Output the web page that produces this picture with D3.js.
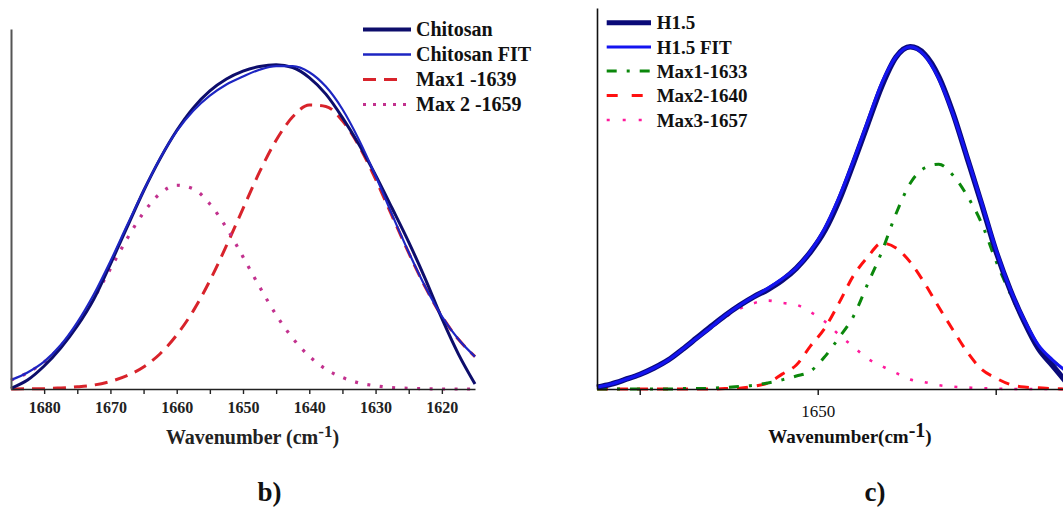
<!DOCTYPE html>
<html>
<head>
<meta charset="utf-8">
<script src="https://cdn.jsdelivr.net/npm/d3@7"></script>
<style>
  html, body { margin: 0; padding: 0; background: #fff; overflow: hidden; }
  svg { display: block; }
  svg text { font-family: "Liberation Serif", "Tinos", "Times New Roman", "Times", "DejaVu Serif", "Noto Serif", serif !important; }
</style>
</head>
<body>
<svg id="fig" width="1063" height="508"></svg>
<script>
// ---------- Panel b: chitosan amide I band and its two-component fit ----------
const wavenumbersB = [1685, 1682.5, 1680, 1677.5, 1675, 1672.5, 1670, 1667.5, 1665, 1662.5,
  1660, 1657.5, 1655, 1652.5, 1650, 1647.5, 1645, 1642.5, 1640, 1637.5,
  1635, 1632.5, 1630, 1627.5, 1625, 1622.5, 1620, 1617.5, 1615];
const chitosan = [0.002, 0.025, 0.064, 0.114, 0.175, 0.250, 0.347, 0.449, 0.550, 0.640,
  0.718, 0.781, 0.828, 0.861, 0.883, 0.896, 0.901, 0.893, 0.865, 0.819,
  0.754, 0.679, 0.594, 0.502, 0.408, 0.306, 0.196, 0.097, 0.014];
const chitosanFit = [0.025, 0.046, 0.076, 0.122, 0.185, 0.263, 0.355, 0.454, 0.551, 0.641,
  0.716, 0.773, 0.815, 0.846, 0.868, 0.887, 0.897, 0.897, 0.880, 0.840,
  0.777, 0.692, 0.592, 0.484, 0.380, 0.284, 0.202, 0.138, 0.090];
const max1B = [0.000, 0.001, 0.001, 0.003, 0.006, 0.011, 0.021, 0.037, 0.061, 0.098,
  0.150, 0.217, 0.301, 0.398, 0.501, 0.603, 0.691, 0.756, 0.789, 0.785,
  0.745, 0.675, 0.583, 0.480, 0.378, 0.283, 0.202, 0.138, 0.090];
const max2B = [0.025, 0.045, 0.075, 0.119, 0.179, 0.252, 0.334, 0.417, 0.490, 0.543,
  0.566, 0.556, 0.514, 0.448, 0.367, 0.284, 0.206, 0.141, 0.091, 0.055,
  0.032, 0.017, 0.009, 0.004, 0.002, 0.001, 0.000, 0.000, 0.000];
const labeledTicksB = [1680, 1670, 1660, 1650, 1640, 1630, 1620];
const minorTicksB = [1675, 1665, 1655, 1645, 1635, 1625];
const legendB = ["Chitosan", "Chitosan FIT", "Max1 -1639", "Max 2 -1659"];

// ---------- Panel c: H1.5 amide I band and its three-component fit ----------
const wavenumbersC = [1681, 1679, 1677, 1675, 1673, 1671, 1669, 1667, 1665, 1663,
  1661, 1659, 1657, 1655, 1653, 1651, 1649, 1647, 1645, 1643,
  1641, 1639, 1637, 1635, 1633, 1631, 1629, 1627, 1625, 1623,
  1621, 1619, 1617, 1615];
const h15 = [0.005, 0.013, 0.025, 0.038, 0.055, 0.076, 0.104, 0.134, 0.164, 0.193,
  0.219, 0.242, 0.261, 0.285, 0.317, 0.360, 0.416, 0.495, 0.592, 0.694,
  0.795, 0.871, 0.898, 0.879, 0.820, 0.724, 0.606, 0.487, 0.364, 0.262,
  0.177, 0.106, 0.061, 0.016];
const h15Fit = [0.005, 0.013, 0.025, 0.038, 0.055, 0.076, 0.104, 0.133, 0.162, 0.193,
  0.219, 0.242, 0.264, 0.289, 0.318, 0.362, 0.422, 0.503, 0.598, 0.701,
  0.803, 0.872, 0.898, 0.876, 0.815, 0.722, 0.608, 0.490, 0.368, 0.264,
  0.181, 0.115, 0.076, 0.045];
const max1C = [0.000, 0.000, 0.000, 0.000, 0.000, 0.000, 0.001, 0.001, 0.002, 0.004,
  0.007, 0.010, 0.016, 0.024, 0.034, 0.047, 0.085, 0.135, 0.190, 0.275,
  0.360, 0.460, 0.540, 0.580, 0.590, 0.561, 0.507, 0.436, 0.338, 0.252,
  0.176, 0.112, 0.075, 0.045];
const max2C = [0.000, 0.000, 0.000, 0.000, 0.000, 0.000, 0.000, 0.000, 0.000, 0.001,
  0.002, 0.007, 0.016, 0.039, 0.063, 0.113, 0.160, 0.226, 0.297, 0.346,
  0.383, 0.370, 0.333, 0.278, 0.215, 0.155, 0.097, 0.052, 0.029, 0.012,
  0.005, 0.003, 0.001, 0.000];
const max3C = [0.005, 0.013, 0.025, 0.038, 0.055, 0.076, 0.103, 0.132, 0.160, 0.188,
  0.210, 0.225, 0.232, 0.226, 0.221, 0.202, 0.177, 0.142, 0.111, 0.080,
  0.060, 0.042, 0.025, 0.018, 0.010, 0.006, 0.004, 0.002, 0.001, 0.000,
  0.000, 0.000, 0.000, 0.000];
const labeledTicksC = [1650];
const minorTicksC = [1675, 1625];
const legendC = ["H1.5", "H1.5 FIT", "Max1-1633", "Max2-1640", "Max3-1657"];

const SERIF = "Liberation Serif, Tinos, Times New Roman, Times, DejaVu Serif, serif";
const svg = d3.select("#fig");

function drawCurve(g, x, y, wn, vals, st, curve) {
  const line = d3.line()
    .x((d, i) => x(wn[i]))
    .y(d => y(d))
    .curve(curve);
  g.append("path")
    .datum(vals)
    .attr("d", line)
    .attr("fill", "none")
    .attr("stroke", st.color)
    .attr("stroke-width", st.width)
    .attr("stroke-dasharray", st.dash || null)
    .attr("stroke-linejoin", "round");
}

function drawLegend(g, entries, x1, x2, tx, baselines, size) {
  entries.forEach((e, i) => {
    const yb = baselines[i];
    g.append("line")
      .attr("x1", x1).attr("x2", e.legendEnd || x2)
      .attr("y1", yb - 6.5).attr("y2", yb - 6.5)
      .attr("stroke", e.color)
      .attr("stroke-width", e.legendWidth || e.width)
      .attr("stroke-dasharray", e.legendDash || e.dash || null);
    g.append("text")
      .attr("x", tx).attr("y", yb)
      .attr("font-family", SERIF)
      .attr("font-size", size).attr("font-weight", "bold")
      .attr("fill", "#111")
      .text(e.label);
  });
}

// ===== Panel b =====
const xB = d3.scaleLinear().domain([1685, 1615]).range([11, 475]);
const yB = d3.scaleLinear().domain([0, 1]).range([389, 29]);
const gB = svg.append("g");

const stylesB = [
  { label: legendB[2], vals: max1B, color: "#d8232b", width: 3, dash: "13,8", legendEnd: 399 },
  { label: legendB[3], vals: max2B, color: "#c2318e", width: 3.2, dash: "3,9.5", legendDash: "3,7", legendEnd: 408 },
  { label: legendB[0], vals: chitosan, color: "#0d0d6b", width: 3, legendWidth: 4 },
  { label: legendB[1], vals: chitosanFit, color: "#1d25c2", width: 2.2, legendWidth: 2.5 }
];
stylesB.forEach(s => drawCurve(gB, xB, yB, wavenumbersB, s.vals, s, d3.curveMonotoneX));

// axes of panel b
const axB = gB.append("g").attr("transform", "translate(0,389)")
  .call(d3.axisBottom(xB)
    .tickValues(labeledTicksB.concat(minorTicksB))
    .tickSize(5).tickSizeOuter(0).tickPadding(8)
    .tickFormat(d => labeledTicksB.includes(d) ? d3.format("d")(d) : ""));
axB.attr("font-family", SERIF);
axB.select(".domain").attr("stroke", "#222").attr("stroke-width", 1.6);
axB.selectAll(".tick line").attr("stroke", "#222").attr("stroke-width", 1.4);
axB.selectAll(".tick text").attr("font-size", 16).attr("font-weight", "bold")
  .attr("fill", "#222").attr("font-family", SERIF);

const ayB = gB.append("g").attr("transform", "translate(11,0)")
  .call(d3.axisLeft(yB).tickValues([]).tickSizeOuter(0));
ayB.select(".domain").attr("stroke", "#555").attr("stroke-width", 2);

const titleB = gB.append("text").attr("x", 252.5).attr("y", 444)
  .attr("text-anchor", "middle").attr("font-weight", "bold").attr("fill", "#222")
  .attr("font-family", SERIF).attr("font-size", 20);
titleB.append("tspan").text("Wavenumber (cm");
titleB.append("tspan").attr("font-size", 17).attr("dy", -7.5).text("-1");
titleB.append("tspan").attr("dy", 7.5).text(")");

drawLegend(gB, [stylesB[2], stylesB[3], stylesB[0], stylesB[1]], 363, 411, 416, [36, 61, 86, 111], 20);

svg.append("text").attr("x", 269.5).attr("y", 501).attr("text-anchor", "middle")
  .attr("font-family", SERIF)
  .attr("font-weight", "bold").attr("font-size", 27).attr("fill", "#111").text("b)");

// ===== Panel c =====
const xC = d3.scaleLinear().domain([1681, 1615]).range([597, 1066.9]);
const yC = d3.scaleLinear().domain([0, 1]).range([389, 8]);
const gC = svg.append("g");

const stylesC = [
  { label: legendC[4], vals: max3C, color: "#ff1a9c", width: 2.6, dash: "3,12", legendDash: "3,13", legendEnd: 643 },
  { label: legendC[3], vals: max2C, color: "#ff1010", width: 3, dash: "11,9", legendDash: "11,14", legendEnd: 644 },
  { label: legendC[2], vals: max1C, color: "#0b870b", width: 3, dash: "10,10,3,10" },
  { label: legendC[0], vals: h15, color: "#0a0a78", width: 5.5, legendWidth: 5 },
  { label: legendC[1], vals: h15Fit, color: "#1414f0", width: 3.2 }
];
stylesC.forEach(s => drawCurve(gC, xC, yC, wavenumbersC, s.vals, s, d3.curveMonotoneX));

const axC = gC.append("g").attr("transform", "translate(0,389)")
  .call(d3.axisBottom(xC)
    .tickValues(labeledTicksC.concat(minorTicksC))
    .tickSize(6).tickSizeOuter(0).tickPadding(9.6)
    .tickFormat(d => labeledTicksC.includes(d) ? d3.format("d")(d) : ""));
axC.attr("font-family", SERIF);
axC.select(".domain").attr("stroke", "#111").attr("stroke-width", 1.6);
axC.selectAll(".tick line").attr("stroke", "#111").attr("stroke-width", 1.4);
axC.selectAll(".tick text").attr("font-size", 17).attr("fill", "#111")
  .attr("font-family", SERIF);

const ayC = gC.append("g").attr("transform", "translate(597,0)")
  .call(d3.axisLeft(yC).tickValues([]).tickSizeOuter(0));
ayC.select(".domain").attr("stroke", "#111").attr("stroke-width", 1.6);

const titleC = gC.append("text").attr("x", 850).attr("y", 442.7)
  .attr("text-anchor", "middle").attr("font-weight", "bold").attr("fill", "#111")
  .attr("font-family", SERIF).attr("font-size", 19);
titleC.append("tspan").text("Wavenumber(cm");
titleC.append("tspan").attr("font-size", 20).attr("dy", -5.5).text("-1");
titleC.append("tspan").attr("dy", 5.5).text(")");

drawLegend(gC, [stylesC[3], stylesC[4], stylesC[2], stylesC[1], stylesC[0]],
  606.7, 651, 656.7, [29.3, 53.5, 77.5, 102, 126.5], 19);

svg.append("text").attr("x", 875).attr("y", 501).attr("text-anchor", "middle")
  .attr("font-family", SERIF)
  .attr("font-weight", "bold").attr("font-size", 27).attr("fill", "#111").text("c)");
</script>
</body>
</html>
